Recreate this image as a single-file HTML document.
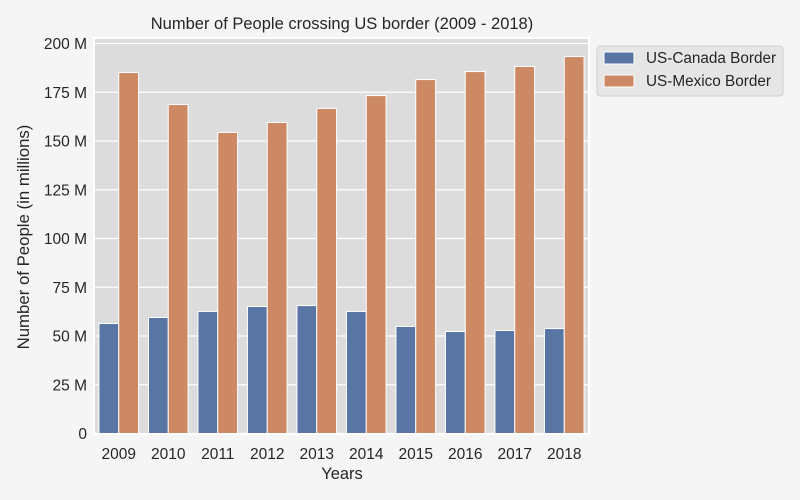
<!DOCTYPE html>
<html><head><meta charset="utf-8"><style>
body{margin:0;background:#f5f5f5;}
svg{display:block;font-family:"Liberation Sans",Arial,sans-serif;}
</style></head><body>
<svg id="chart" width="800" height="500">
<rect x="0" y="0" width="800" height="500" fill="#f5f5f5"/>
<rect x="94" y="38" width="495" height="396" fill="#dcdcdc" stroke="#ffffff" stroke-width="2"/>
<g id="grid"></g>
<g id="bars"></g>
<g id="ticks"></g>
<text x="342" y="29" text-anchor="middle" font-size="16.5" fill="#262626">Number of People crossing US border (2009 - 2018)</text>
<text x="342" y="479" text-anchor="middle" font-size="16.5" fill="#262626">Years</text>
<text transform="translate(29,237) rotate(-90)" text-anchor="middle" font-size="16.8" fill="#262626">Number of People (in millions)</text>
<g>
<rect x="597" y="46" width="186" height="50" rx="3" fill="#e6e6e6" stroke="#d0d0d0"/>
<rect x="604" y="52" width="30" height="12" fill="#5875a4" stroke="#fff"/>
<text x="646" y="63" font-size="15.3" fill="#262626">US-Canada Border</text>
<rect x="604" y="75" width="30" height="12" fill="#cc8963" stroke="#fff"/>
<text x="646" y="86" font-size="15.3" fill="#262626">US-Mexico Border</text>
</g>
</svg>
<script>
const years = ['2009','2010','2011','2012','2013','2014','2015','2016','2017','2018'];
const canada = [56.4,59.5,62.6,65.1,65.6,62.6,54.9,52.3,52.8,53.8];
const mexico = [185.1,168.7,154.4,159.5,166.7,173.3,181.5,185.6,188.2,193.3];
const yTicks = [0,25,50,75,100,125,150,175,200];
const yTickLabels = ['0','25 M','50 M','75 M','100 M','125 M','150 M','175 M','200 M'];
const NS='http://www.w3.org/2000/svg';
const x0=94,x1=589,yb=433.5,yt=43.5;
const y=v=>yb-(v/200)*(yb-yt);
const band=(x1-x0)/years.length;
const xc=i=>x0+band*(i+0.5);
const bw=band*0.4;
function mk(tag,attrs,parent){const e=document.createElementNS(NS,tag);for(const k in attrs)e.setAttribute(k,attrs[k]);parent.appendChild(e);return e;}
const grid=document.getElementById('grid'),bars=document.getElementById('bars'),ticks=document.getElementById('ticks');
yTicks.forEach((t,i)=>{
  const l=mk('line',{x1:x0,x2:x1,y1:y(t),y2:y(t),stroke:'#fff','stroke-width':1.2},grid);
  
  
  const tx=mk('text',{x:87,y:y(t)+5.5,'text-anchor':'end','font-size':15.5,fill:'#262626'},ticks);
  tx.textContent=yTickLabels[i];
  
  
});
years.forEach((yr,i)=>{
  const c=xc(i);
  const b1=mk('rect',{x:c-bw,y:y(canada[i]),width:bw,height:yb-y(canada[i]),fill:'#5875a4',stroke:'#fff','stroke-width':1},bars);
  
  
  const b2=mk('rect',{x:c,y:y(mexico[i]),width:bw,height:yb-y(mexico[i]),fill:'#cc8963',stroke:'#fff','stroke-width':1},bars);
  
  
  const tx=mk('text',{x:c,y:459,'text-anchor':'middle','font-size':15.5,fill:'#262626'},ticks);
  tx.textContent=yr;
  
  
});
</script>
</body></html>
